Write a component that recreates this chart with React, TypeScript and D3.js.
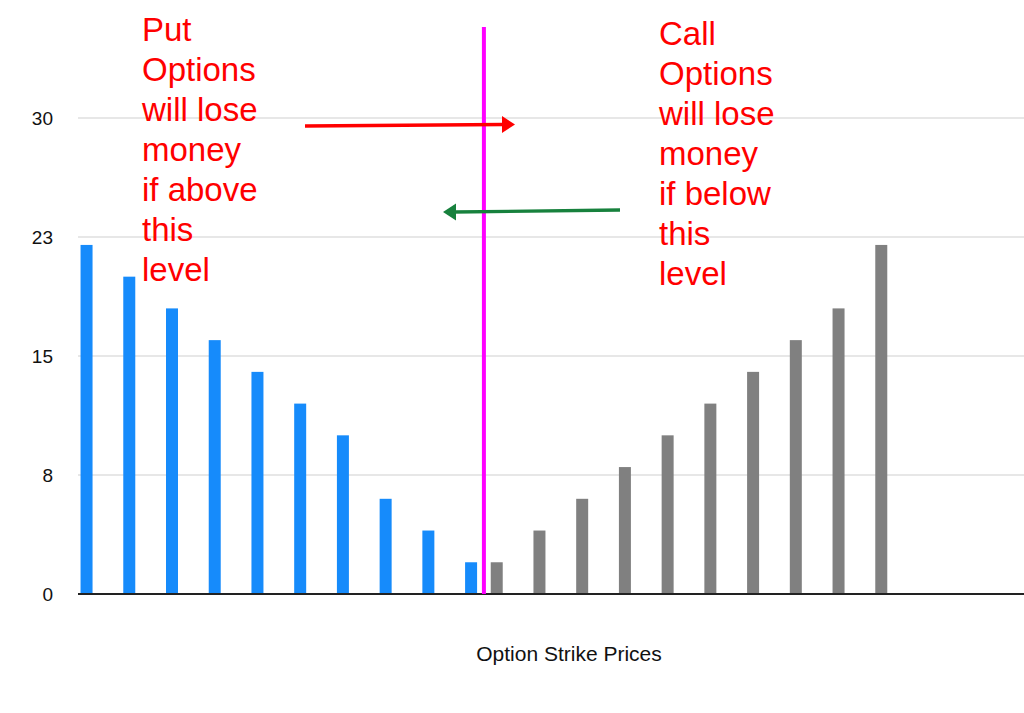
import React, { useEffect, useRef } from 'react';
import * as d3 from 'd3';

// 22 strike slots, labels are not printed on the chart
const strikes = d3.range(1, 23).map(i => `K${i}`);
// put option values (blue), null where no bar
const putValues: (number | null)[] = [22, 20, 18, 16, 14, 12, 10, 6, 4, 2, null, null, null, null, null, null, null, null, null, null, null, null];
// call option values (gray)
const callValues: (number | null)[] = [null, null, null, null, null, null, null, null, null, 2, 4, 6, 8, 10, 12, 14, 16, 18, 22, null, null, null];
const yTicks = [0, 7.5, 15, 22.5, 30];
const breakEvenStrike = 'K10';
const putNote = ['Put', 'Options', 'will lose', 'money', 'if above', 'this', 'level'];
const callNote = ['Call', 'Options', 'will lose', 'money', 'if below', 'this', 'level'];

const FONT = '"Liberation Sans", Arial, Helvetica, sans-serif';

const App: React.FC = () => {
  const svgRef = useRef<SVGSVGElement>(null);

  useEffect(() => {
    const totalWidth = 1024;
    const totalHeight = 713;
    const margin = { top: 118, bottom: 119, left: 78, right: 6 };

    const svg = d3.select(svgRef.current)
      .attr('width', totalWidth)
      .attr('height', totalHeight);
    svg.selectAll('*').remove();

    const x = d3.scaleBand<string>()
      .domain(strikes)
      .range([margin.left, totalWidth - margin.right]);

    const inner = d3.scalePoint<string>()
      .domain(['put', 'call'])
      .range([0, x.step()])
      .padding(1 / 3);

    const y = d3.scaleLinear()
      .domain([0, 30])
      .range([totalHeight - margin.bottom, margin.top]);

    const barW = 12;

    // grid lines
    svg.append('g')
      .selectAll('line')
      .data(yTicks.slice(1))
      .enter().append('line')
      .attr('x1', margin.left)
      .attr('x2', 1024)
      .attr('y1', d => y(d))
      .attr('y2', d => y(d))
      .attr('stroke', '#cfcfcf')
      .attr('stroke-width', 1.2);

    // y tick labels
    svg.append('g')
      .selectAll('text')
      .data(yTicks)
      .enter().append('text')
      .attr('x', 53)
      .attr('y', d => y(d))
      .attr('dy', '0.36em')
      .attr('text-anchor', 'end')
      .style('font-family', FONT)
      .style('font-size', '19px')
      .attr('fill', '#111')
      .text(d => d3.format('.0f')(d));

    const putData = strikes.map((k, i) => ({ k, v: putValues[i] })).filter(d => d.v != null);
    const callData = strikes.map((k, i) => ({ k, v: callValues[i] })).filter(d => d.v != null);

    svg.append('g')
      .selectAll('rect')
      .data(putData)
      .enter().append('rect')
      .attr('x', d => (x(d.k) as number) + (inner('put') as number) - barW / 2)
      .attr('y', d => y(d.v as number))
      .attr('width', barW)
      .attr('height', d => y(0) - y(d.v as number))
      .attr('fill', '#168bfb');

    svg.append('g')
      .selectAll('rect')
      .data(callData)
      .enter().append('rect')
      .attr('x', d => (x(d.k) as number) + (inner('call') as number) - barW / 2)
      .attr('y', d => y(d.v as number))
      .attr('width', barW)
      .attr('height', d => y(0) - y(d.v as number))
      .attr('fill', '#808080');

    // baseline
    svg.append('line')
      .attr('x1', margin.left)
      .attr('x2', 1024)
      .attr('y1', y(0))
      .attr('y2', y(0))
      .attr('stroke', '#222')
      .attr('stroke-width', 2);

    // break-even strike line
    const sx = (x(breakEvenStrike) as number) + x.bandwidth() / 2;
    svg.append('line')
      .attr('x1', sx)
      .attr('x2', sx)
      .attr('y1', 27)
      .attr('y2', y(0))
      .attr('stroke', '#ff00ff')
      .attr('stroke-width', 4);

    // x axis title
    svg.append('text')
      .attr('x', 569)
      .attr('y', 661)
      .attr('text-anchor', 'middle')
      .style('font-family', FONT)
      .style('font-size', '21px')
      .attr('fill', '#111')
      .text('Option Strike Prices');

    // annotations
    const note = (lines: string[], tx: number, ty: number) => {
      svg.append('g')
        .selectAll('text')
        .data(lines)
        .enter().append('text')
        .attr('x', tx)
        .attr('y', (_, i) => ty + i * 40)
        .style('font-family', FONT)
        .style('font-size', '33px')
        .attr('fill', '#ff0000')
        .text(d => d);
    };
    note(putNote, 142, 41);
    note(callNote, 659, 45);

    const arrow = (x1: number, y1: number, x2: number, y2: number, color: string) => {
      const dir = Math.sign(x2 - x1);
      const headLen = 13;
      const baseX = x2 - dir * headLen;
      svg.append('line')
        .attr('x1', x1).attr('y1', y1)
        .attr('x2', baseX + dir * 2).attr('y2', y2)
        .attr('stroke', color)
        .attr('stroke-width', 3.4);
      svg.append('path')
        .attr('d', `M${x2},${y2} L${baseX},${y2 - 8.5} L${baseX},${y2 + 8.5} Z`)
        .attr('fill', color);
    };
    arrow(305, 126, 515, 124.5, '#ff0000');
    arrow(620, 210, 443, 212, '#17813d');
  }, []);

  return (
    <div style={{ position: 'absolute', left: 0, top: 0, background: '#fff' }}>
      <svg ref={svgRef} style={{ display: 'block' }}></svg>
    </div>
  );
};

export default App;
